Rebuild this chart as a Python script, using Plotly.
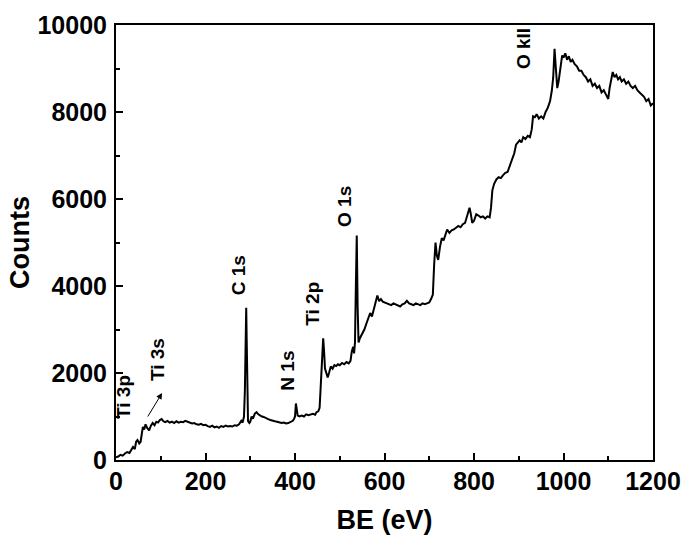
import plotly.graph_objects as go

# Binding energy (eV) and counts
be = [0, 5, 10, 15, 20, 25, 30, 35, 38, 42, 45, 48, 52, 55, 58, 60, 63, 66, 70, 74, 78, 82, 86, 90, 94, 98,
      102, 106, 110, 115, 120, 125, 130, 135, 140, 145, 150, 155, 160, 165, 170, 175, 180, 185, 190, 195,
      200, 205, 210, 215, 220, 225, 230, 235, 240, 245, 250, 255, 260, 265, 270, 275, 280, 283, 286, 288,
      290, 291, 292, 293, 295, 298, 300, 303, 306, 310, 314, 318, 322, 326, 330, 335, 340, 345, 350, 355,
      360, 365, 370, 375, 380, 385, 390, 395, 398, 400, 402, 404, 406, 410, 415, 420, 425, 430, 435, 440,
      445, 448, 452, 455, 457, 459, 461, 463, 465, 467, 470, 473, 476, 480, 484, 488, 492, 496, 500, 505,
      510, 515, 520, 524, 527, 530, 532, 534, 536, 538, 540, 542, 545, 550, 555, 560, 565, 568, 572, 576,
      580, 584, 588, 592, 596, 600, 605, 610, 615, 620, 625, 630, 635, 640, 645, 650, 655, 660, 665, 670,
      675, 680, 685, 690, 695, 700, 704, 708, 711, 714, 717, 720, 724, 728, 732, 736, 740, 745, 750, 755,
      760, 765, 770, 775, 780, 785, 790, 793, 796, 800, 805, 810, 815, 820, 825, 830, 835, 838, 841, 845,
      850, 855, 860, 865, 870, 875, 880, 885, 890, 894, 898, 902, 906, 910, 915, 920, 925, 929, 932, 936,
      940, 945, 950, 955, 960, 965, 970, 974, 977, 980, 983, 986, 989, 993, 997, 1000, 1004, 1008, 1012,
      1016, 1020, 1025, 1030, 1035, 1040, 1045, 1050, 1055, 1060, 1065, 1070, 1075, 1080, 1085, 1090, 1095,
      1100, 1103, 1107, 1110, 1114, 1118, 1122, 1126, 1130, 1135, 1140, 1145, 1150, 1155, 1160, 1165, 1170,
      1175, 1180, 1185, 1190, 1195, 1200]
counts = [60, 80, 120, 100, 150, 180, 160, 260, 300, 250, 420, 460, 380, 420, 600, 760, 700, 820, 730, 680,
          790, 850, 800, 880, 860, 920, 940, 890, 870, 900, 860, 880, 850, 890, 860, 880, 870, 900, 880, 860,
          840, 850, 820, 810, 830, 800, 810, 780, 760, 790, 750, 770, 740, 780, 760, 790, 770, 780, 770, 800,
          790, 820, 900, 860, 1000, 1600, 3000, 3500, 2800, 1500, 900, 850, 880, 1000, 950, 1060, 1100, 1050,
          1020, 1000, 990, 960, 940, 920, 900, 890, 880, 860, 850, 860, 840, 850, 880, 900, 950, 1000, 1300,
          1200, 1020, 1000, 1020, 1000, 1050, 1030, 1040, 1060, 1040, 1100, 1120, 1200, 1600, 2100, 2200,
          2800, 2500, 2100, 2000, 1900, 2000, 2150, 2100, 2180, 2160, 2200, 2180, 2230, 2200, 2250, 2220,
          2280, 2500, 2600, 2450, 2700, 4000, 5160, 3500, 2700, 2800, 2900, 3000, 3150, 3300, 3380, 3300,
          3450, 3600, 3780, 3650, 3700, 3640, 3620, 3600, 3580, 3560, 3600, 3580, 3560, 3530, 3580, 3600,
          3660, 3600, 3580, 3560, 3600, 3570, 3560, 3600, 3580, 3600, 3620, 3700, 3800, 4500, 5000, 4700,
          4600, 4900, 5100, 5050, 5200, 5300, 5220, 5280, 5300, 5330, 5380, 5350, 5420, 5450, 5600, 5800,
          5650, 5450, 5500, 5650, 5620, 5580, 5600, 5550, 5600, 5580, 5800, 6200, 6350, 6450, 6500, 6480,
          6550, 6600, 6620, 6750, 6900, 7050, 7250, 7300, 7350, 7300, 7420, 7380, 7450, 7420, 7600, 7900,
          7880, 7950, 7850, 7900, 7850, 8000, 8100, 8250, 8500, 8800, 9450, 9000, 8550, 8700, 9000, 9300,
          9250, 9350, 9200, 9280, 9150, 9200, 9100, 9050, 8950, 8950, 8850, 8800, 8700, 8750, 8600, 8650,
          8550, 8600, 8450, 8500, 8400, 8300, 8550, 8800, 8920, 8800, 8850, 8750, 8800, 8700, 8750, 8650,
          8700, 8600, 8550, 8600, 8500, 8450, 8400, 8350, 8250, 8300, 8150, 8200]

# Peak labels: text, x (eV), y (counts)
peak_labels = ["Ti 3p", "Ti 3s", "C 1s", "N 1s", "Ti 2p", "O 1s", "O kll"]
label_x = [18, 94, 273, 384, 440, 512, 912]
label_y = [1450, 2300, 4250, 2050, 3590, 5820, 9450]

x_ticks = [0, 200, 400, 600, 800, 1000, 1200]
x_tick_text = ["0", "200", "400", "600", "800", "1000", "1200"]
y_ticks = [0, 2000, 4000, 6000, 8000, 10000]
y_tick_text = ["0", "2000", "4000", "6000", "8000", "10000"]

FONT = "Liberation Sans, Arial, sans-serif"

fig = go.Figure()
fig.add_trace(go.Scatter(x=be, y=counts, mode="lines",
                         line=dict(color="black", width=2), showlegend=False))

annotations = []
for t, lx, ly in zip(peak_labels, label_x, label_y):
    annotations.append(dict(x=lx, y=ly, xref="x", yref="y", text=t, showarrow=False,
                            textangle=-90, xanchor="center", yanchor="middle",
                            font=dict(family=FONT, size=19, color="black", weight="bold")))
# arrow pointing to Ti 3s
annotations.append(dict(x=103, y=1540, ax=69, ay=965, xref="x", yref="y", axref="x", ayref="y",
                        text="", showarrow=True, arrowhead=2, arrowsize=1.2, arrowwidth=1,
                        arrowcolor="black"))

axis_common = dict(showline=True, linecolor="black", linewidth=2, mirror=True,
                   ticks="inside", tickcolor="black", tickwidth=2, ticklen=7,
                   showgrid=False, zeroline=False, automargin=False,
                   tickfont=dict(family=FONT, size=25, color="black", weight="bold"),
                   minor=dict(ticks="inside", ticklen=4, tickwidth=1.5, tickcolor="black", showgrid=False))

fig.update_layout(
    width=683, height=541,
    margin=dict(l=116, r=30, t=25, b=81),
    paper_bgcolor="white", plot_bgcolor="white",
    annotations=annotations,
    xaxis=dict(range=[0, 1200], tickmode="array", tickvals=x_ticks, ticktext=x_tick_text,
               ticklabelstandoff=-2,
               title=dict(text="BE (eV)", standoff=16,
                          font=dict(family=FONT, size=27, color="black", weight="bold")),
               **axis_common),
    yaxis=dict(range=[0, 10000], tickmode="array", tickvals=y_ticks, ticktext=y_tick_text,
               ticklabelstandoff=2,
               title=dict(text="Counts", standoff=0,
                          font=dict(family=FONT, size=27, color="black", weight="bold")),
               **axis_common),
)
fig.update_xaxes(minor=dict(dtick=100, tick0=0))
fig.update_yaxes(minor=dict(dtick=1000, tick0=0))

# remove the default page margin so the figure sits at the window's top-left corner
fig.write_html("out.html", config={"displayModeBar": False},
               post_script="document.body.style.margin='0px';")
